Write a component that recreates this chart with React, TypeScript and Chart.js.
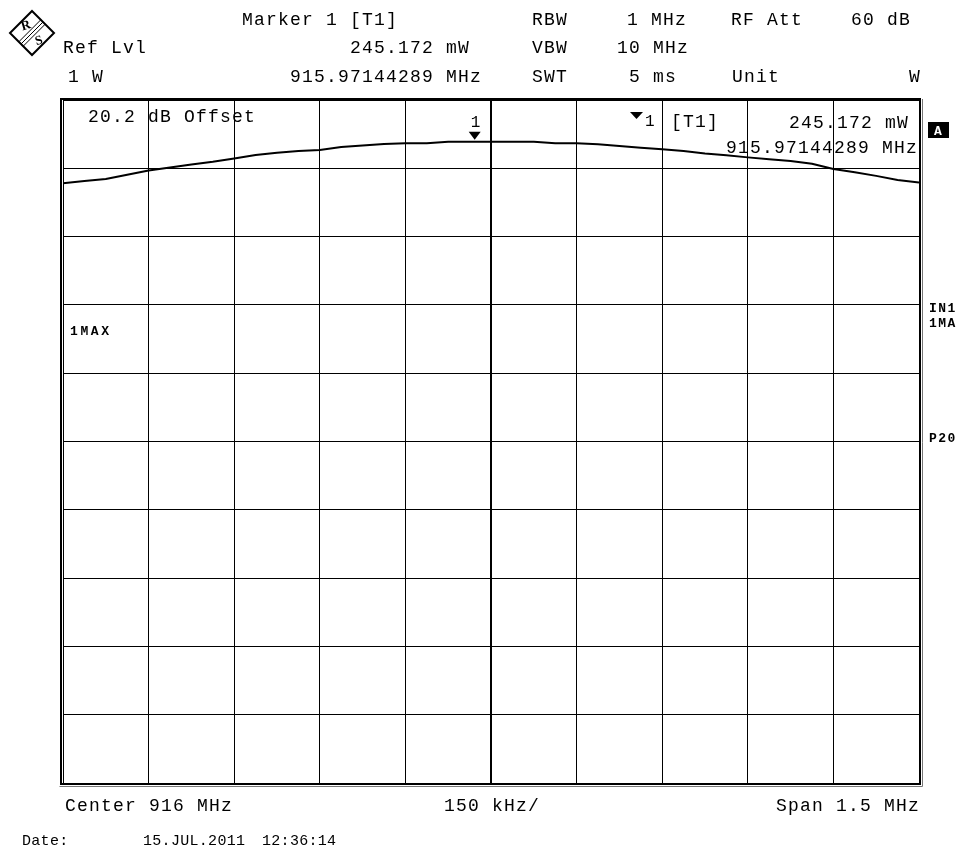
import React, { useEffect, useRef } from "react";
import { Chart, registerables } from "chart.js";

Chart.register(...registerables);

// Frequency axis (MHz) – center 916 MHz, span 1.5 MHz, 150 kHz/div
const freqMHz = [
  915.25, 915.2875, 915.325, 915.3625, 915.4, 915.4375, 915.475, 915.5125, 915.55, 915.5875,
  915.625, 915.6625, 915.7, 915.7375, 915.775, 915.8125, 915.85, 915.8875, 915.925, 915.9625,
  916.0, 916.0375, 916.075, 916.1125, 916.15, 916.1875, 916.225, 916.2625, 916.3, 916.3375,
  916.375, 916.4125, 916.45, 916.4875, 916.525, 916.5625, 916.6, 916.6375, 916.675, 916.7125,
  916.75,
];
// Trace level (dB relative to 1 W)
const levelDbW = [
  -12.18, -11.86, -11.57, -10.94, -10.31, -9.87, -9.43, -9.03, -8.55, -8.05,
  -7.72, -7.47, -7.32, -6.88, -6.65, -6.44, -6.35, -6.35, -6.11, -6.11,
  -6.11, -6.11, -6.11, -6.35, -6.35, -6.49, -6.73, -6.98, -7.22, -7.47,
  -7.82, -8.1, -8.4, -8.69, -8.92, -9.32, -10.09, -10.59, -11.11, -11.7,
  -12.08,
];
const xTickValues = [915.25, 915.4, 915.55, 915.7, 915.85, 916.0, 916.15, 916.3, 916.45, 916.6, 916.75];
const yMin = -100;
const yMax = 0;
const markerFreq = 915.97144289;
const markerLevel = -6.106;

const FONT = '"Liberation Mono", "Courier New", monospace';

function txt(
  ctx: CanvasRenderingContext2D,
  s: string,
  x: number,
  y: number,
  size = 18,
  weight = "normal",
  spacing = 1.2,
  color = "#000"
) {
  ctx.save();
  ctx.font = `${weight} ${size}px ${FONT}`;
  try {
    (ctx as any).letterSpacing = `${spacing}px`;
  } catch (e) {}
  ctx.fillStyle = color;
  ctx.textAlign = "left";
  ctx.textBaseline = "alphabetic";
  ctx.fillText(s, x, y);
  ctx.restore();
}

const overlay = {
  id: "overlay",
  afterDraw(chart: any) {
    const ctx: CanvasRenderingContext2D = chart.ctx;
    const { left, right, top, bottom } = chart.chartArea;
    const xs = chart.scales.x;
    const ys = chart.scales.y;

    // frame
    ctx.save();
    ctx.strokeStyle = "#000";
    ctx.lineWidth = 2;
    ctx.strokeRect(left - 2, top - 1, right - left + 3, bottom - top + 2);
    ctx.strokeStyle = "#777";
    ctx.lineWidth = 1;
    ctx.beginPath();
    ctx.moveTo(left - 3.5, bottom + 3.5);
    ctx.lineTo(right + 3.5, bottom + 3.5);
    ctx.lineTo(right + 3.5, top - 1);
    ctx.stroke();
    ctx.restore();

    // header
    txt(ctx, "Marker 1 [T1]", 242, 25);
    txt(ctx, "RBW", 532, 25);
    txt(ctx, "1 MHz", 627, 25);
    txt(ctx, "RF Att", 731, 25);
    txt(ctx, "60 dB", 851, 25);
    txt(ctx, "Ref Lvl", 63, 53);
    txt(ctx, "245.172 mW", 350, 53);
    txt(ctx, "VBW", 532, 53);
    txt(ctx, "10 MHz", 617, 53);
    txt(ctx, "1 W", 68, 82);
    txt(ctx, "915.97144289 MHz", 290, 82);
    txt(ctx, "SWT", 532, 82);
    txt(ctx, "5 ms", 629, 82);
    txt(ctx, "Unit", 732, 82);
    txt(ctx, "W", 909, 82);

    // inside plot
    txt(ctx, "20.2 dB Offset", 88, 122);
    // marker info
    ctx.save();
    ctx.fillStyle = "#000";
    ctx.beginPath();
    ctx.moveTo(630, 112);
    ctx.lineTo(643, 112);
    ctx.lineTo(636.5, 119);
    ctx.closePath();
    ctx.fill();
    ctx.restore();
    txt(ctx, "1", 645, 126, 16, "normal", 1);
    txt(ctx, "[T1]", 671, 127);
    txt(ctx, "245.172 mW", 789, 128);
    txt(ctx, "915.97144289 MHz", 726, 153);

    // marker on trace
    const mx = xs.getPixelForValue(markerFreq);
    const my = ys.getPixelForValue(markerLevel);
    ctx.save();
    ctx.fillStyle = "#000";
    ctx.beginPath();
    ctx.moveTo(mx - 6, my - 10);
    ctx.lineTo(mx + 6, my - 10);
    ctx.lineTo(mx, my - 2);
    ctx.closePath();
    ctx.fill();
    ctx.restore();
    txt(ctx, "1", mx - 4, 127, 16, "normal", 1);

    // side labels
    txt(ctx, "1MAX", 70, 335, 13, "bold", 2.6);
    txt(ctx, "IN1", 929, 312, 13, "bold", 1.4);
    txt(ctx, "1MA", 929, 327, 13, "bold", 1.4);
    txt(ctx, "P20", 929, 442, 13, "bold", 1.4);
    ctx.save();
    ctx.fillStyle = "#000";
    ctx.fillRect(928, 122, 21, 16);
    ctx.restore();
    txt(ctx, "A", 934, 135, 13, "bold", 0, "#fff");

    // footer
    txt(ctx, "Center 916 MHz", 65, 811);
    txt(ctx, "150 kHz/", 444, 811);
    txt(ctx, "Span 1.5 MHz", 776, 811);
    txt(ctx, "Date:", 22, 845, 15, "normal", 0.3);
    txt(ctx, "15.JUL.2011", 143, 845, 15, "normal", 0.3);
    txt(ctx, "12:36:14", 262, 845, 15, "normal", 0.3);

    // R&S logo
    ctx.save();
    const cx = 32, cy = 33, h = 22;
    ctx.strokeStyle = "#000";
    ctx.lineWidth = 2;
    ctx.beginPath();
    ctx.moveTo(cx, cy - h);
    ctx.lineTo(cx + h, cy);
    ctx.lineTo(cx, cy + h);
    ctx.lineTo(cx - h, cy);
    ctx.closePath();
    ctx.stroke();
    ctx.lineWidth = 1;
    for (const o of [-2.2, 0, 2.2]) {
      ctx.beginPath();
      ctx.moveTo(cx + h / 2 + o, cy - h / 2 + o);
      ctx.lineTo(cx - h / 2 + o, cy + h / 2 + o);
      ctx.stroke();
    }
    ctx.fillStyle = "#000";
    ctx.font = `bold 13px "Liberation Serif", serif`;
    ctx.textAlign = "center";
    ctx.textBaseline = "middle";
    ctx.save();
    ctx.translate(cx - 6, cy - 7);
    ctx.rotate(-0.3);
    ctx.fillText("R", 0, 0);
    ctx.restore();
    ctx.save();
    ctx.translate(cx + 7, cy + 8);
    ctx.rotate(-0.3);
    ctx.fillText("S", 0, 0);
    ctx.restore();
    ctx.restore();
  },
};

export default function App() {
  const ref = useRef<HTMLCanvasElement | null>(null);
  useEffect(() => {
    if (!ref.current) return;
    const data = freqMHz.map((f, i) => ({ x: f, y: levelDbW[i] }));
    const chart = new Chart(ref.current, {
      type: "line",
      data: {
        datasets: [
          {
            data,
            borderColor: "#000",
            borderWidth: 2,
            pointRadius: 0,
            tension: 0,
            fill: false,
          },
        ],
      },
      options: {
        responsive: false,
        animation: false,
        events: [],
        layout: { padding: { left: 63, top: 100, right: 40, bottom: 67 } },
        plugins: { legend: { display: false }, tooltip: { enabled: false } },
        scales: {
          x: {
            type: "linear",
            min: freqMHz[0],
            max: freqMHz[freqMHz.length - 1],
            afterBuildTicks: (scale: any) => {
              scale.ticks = xTickValues.map((v) => ({ value: v }));
            },
            ticks: { display: false },
            border: { display: false },
            grid: {
              color: "#000",
              drawTicks: false,
              lineWidth: (c: any) => (c.index === 5 ? 2 : 1),
            },
          },
          y: {
            type: "linear",
            min: yMin,
            max: yMax,
            ticks: { display: false, stepSize: 10 },
            border: { display: false },
            grid: { color: "#000", drawTicks: false, lineWidth: 1 },
          },
        },
      },
      plugins: [overlay],
    });
    return () => chart.destroy();
  }, []);
  return (
    <div style={{ position: "absolute", left: 0, top: 0, width: 959, height: 850, background: "#fff" }}>
      <canvas ref={ref} width={959} height={850} style={{ display: "block" }} />
    </div>
  );
}
